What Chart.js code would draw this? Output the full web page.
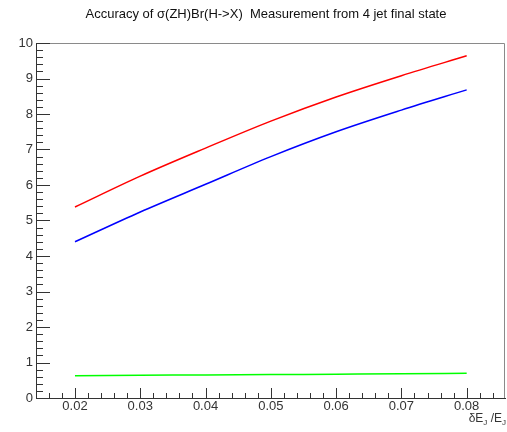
<!DOCTYPE html>
<html>
<head>
<meta charset="utf-8">
<script src="https://cdn.jsdelivr.net/npm/chart.js@4/dist/chart.umd.min.js"></script>
<style>
  html, body { margin: 0; padding: 0; background: #fff; }
  #wrap { width: 507px; height: 432px; }
</style>
</head>
<body>
<div id="wrap"><canvas id="lineChart"></canvas></div>
<script>
// values
const xValues = [0.02, 0.03, 0.04, 0.05, 0.06, 0.07, 0.08];
const redValues = [5.38, 6.25, 7.04, 7.80, 8.48, 9.08, 9.64];
const blueValues = [4.40, 5.24, 6.02, 6.80, 7.50, 8.11, 8.68];
const greenValues = [0.63, 0.64, 0.65, 0.66, 0.67, 0.68, 0.70];
const xTickLabels = ['0.02', '0.03', '0.04', '0.05', '0.06', '0.07', '0.08'];
const yTickLabels = ['0', '1', '2', '3', '4', '5', '6', '7', '8', '9', '10'];
const titleText = 'Accuracy of \u03c3(ZH)Br(H->X)  Measurement from 4 jet final state';

const FONT = "'Liberation Sans', Arial, sans-serif";

const toPoints = (ys) => xValues.map((x, i) => ({ x: x, y: ys[i] }));

// ROOT style frame, inward ticks and titles
const rootFrame = {
    id: 'rootFrame',
    afterDatasetsDraw(chart) {
        const ctx = chart.ctx;
        const a = chart.chartArea;
        const xs = chart.scales.x;
        const ys = chart.scales.y;
        ctx.save();

        // top and right frame
        ctx.strokeStyle = '#8a8a8a';
        ctx.lineWidth = 1;
        ctx.beginPath();
        ctx.moveTo(a.left, a.top + 0.5);
        ctx.lineTo(a.right - 0.5, a.top + 0.5);
        ctx.lineTo(a.right - 0.5, a.bottom);
        ctx.stroke();

        ctx.strokeStyle = '#333';
        ctx.beginPath();
        // y ticks
        for (let v = 0; v <= 10.001; v += 0.2) {
            const py = Math.round(ys.getPixelForValue(v)) + 0.5;
            const major = Math.abs(v - Math.round(v)) < 0.01;
            ctx.moveTo(a.left, py);
            ctx.lineTo(a.left + (major ? 14 : 7), py);
        }
        // x ticks
        for (let i = 7; i <= 43; i++) {
            const v = i * 0.002;
            if (v < xs.min || v > xs.max) continue;
            const px = Math.round(xs.getPixelForValue(v)) + 0.5;
            const major = i % 5 === 0;
            ctx.moveTo(px, a.bottom);
            ctx.lineTo(px, a.bottom - (major ? 10 : 5));
        }
        ctx.stroke();

        // title
        ctx.fillStyle = '#111';
        ctx.font = '13px ' + FONT;
        ctx.textAlign = 'center';
        ctx.textBaseline = 'middle';
        ctx.fillText(titleText, 266, 14);

        // x axis title: dE_J/E_J
        const parts = [['\u03b4E', 12, 0], ['J', 8, 3], [' /E', 12, 0], ['J', 8, 3]];
        let total = 0;
        parts.forEach(p => { ctx.font = p[1] + 'px ' + FONT; total += ctx.measureText(p[0]).width; });
        let x = 506 - total;
        ctx.textAlign = 'left';
        ctx.textBaseline = 'alphabetic';
        ctx.fillStyle = '#333';
        parts.forEach(p => {
            ctx.font = p[1] + 'px ' + FONT;
            ctx.fillText(p[0], x, 422 + p[2]);
            x += ctx.measureText(p[0]).width;
        });
        ctx.restore();
    }
};

const ctx = document.getElementById('lineChart').getContext('2d');
const myChart = new Chart(ctx, {
    type: 'line',
    data: {
        datasets: [
            { data: toPoints(redValues), borderColor: '#ff0000', borderWidth: 1.5, pointRadius: 0, cubicInterpolationMode: 'monotone', fill: false },
            { data: toPoints(blueValues), borderColor: '#0000ff', borderWidth: 1.5, pointRadius: 0, cubicInterpolationMode: 'monotone', fill: false },
            { data: toPoints(greenValues), borderColor: '#00ff00', borderWidth: 1.5, pointRadius: 0, cubicInterpolationMode: 'monotone', fill: false }
        ]
    },
    options: {
        responsive: true,
        maintainAspectRatio: false,
        animation: false,
        layout: { padding: { top: 43, right: 2, left: 0, bottom: 0 } },
        plugins: {
            legend: { display: false },
            title: { display: false },
            tooltip: { enabled: false }
        },
        scales: {
            x: {
                type: 'linear',
                min: 0.01403,
                max: 0.08587,
                afterBuildTicks: (scale) => { scale.ticks = xValues.map(v => ({ value: v })); },
                afterFit: (scale) => { scale.height = 34; },
                grid: { display: false, drawTicks: false, tickLength: 0 },
                border: { display: true, color: '#333', width: 1 },
                ticks: {
                    padding: 1,
                    maxRotation: 0,
                    autoSkip: false,
                    color: '#333',
                    font: { family: FONT, size: 13 },
                    callback: (value, index) => xTickLabels[index]
                }
            },
            y: {
                min: 0,
                max: 10,
                afterFit: (scale) => { scale.width = 36; },
                grid: { display: false, drawTicks: false, tickLength: 0 },
                border: { display: true, color: '#333', width: 1 },
                ticks: {
                    stepSize: 1,
                    padding: 3,
                    color: '#333',
                    font: { family: FONT, size: 13 },
                    callback: (value, index) => yTickLabels[index]
                }
            }
        }
    },
    plugins: [rootFrame]
});
</script>
</body>
</html>
